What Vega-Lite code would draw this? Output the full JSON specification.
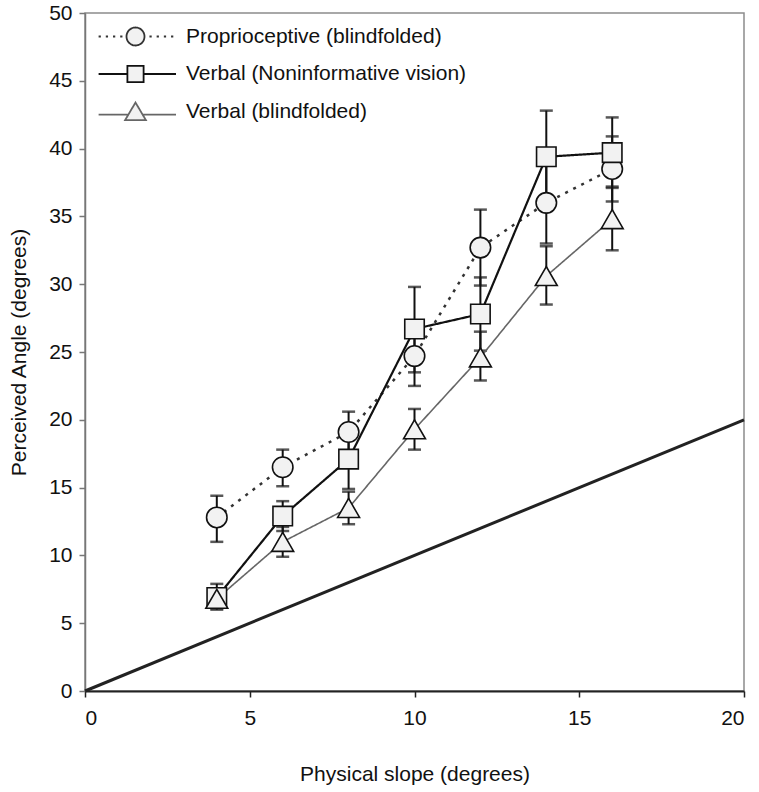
{
  "$schema": "https://vega.github.io/schema/vega-lite/v6.json",
  "width": 659,
  "height": 678,
  "autosize": {"type": "none"},
  "padding": {"left": 85, "top": 13, "right": 15, "bottom": 101},
  "background": "white",
  "config": {
    "font": "Liberation Sans",
    "view": {"stroke": "#8c8c8c", "strokeWidth": 1.5},
    "axis": {"grid": false, "labelFontSize": 21, "titleFontSize": 21, "titleFontWeight": "normal", "labelColor": "#111", "titleColor": "#111", "tickSize": 6}
  },
  "datasets": {
    "ref": [{"x": 0, "y": 0}, {"x": 20, "y": 20}],
    "pts": [
      {"series": "Proprioceptive (blindfolded)", "x": 4, "y": 12.8, "lo": 11.0, "hi": 14.4},
      {"series": "Proprioceptive (blindfolded)", "x": 6, "y": 16.5, "lo": 15.1, "hi": 17.8},
      {"series": "Proprioceptive (blindfolded)", "x": 8, "y": 19.1, "lo": 17.6, "hi": 20.6},
      {"series": "Proprioceptive (blindfolded)", "x": 10, "y": 24.7, "lo": 22.5, "hi": 26.9},
      {"series": "Proprioceptive (blindfolded)", "x": 12, "y": 32.7, "lo": 29.9, "hi": 35.5},
      {"series": "Proprioceptive (blindfolded)", "x": 14, "y": 36.0, "lo": 33.0, "hi": 39.0},
      {"series": "Proprioceptive (blindfolded)", "x": 16, "y": 38.5, "lo": 36.1, "hi": 40.9},
      {"series": "Verbal (Noninformative vision)", "x": 4, "y": 6.9, "lo": 6.0, "hi": 7.9},
      {"series": "Verbal (Noninformative vision)", "x": 6, "y": 12.9, "lo": 11.8, "hi": 14.0},
      {"series": "Verbal (Noninformative vision)", "x": 8, "y": 17.1, "lo": 14.9, "hi": 19.3},
      {"series": "Verbal (Noninformative vision)", "x": 10, "y": 26.7, "lo": 23.5, "hi": 29.8},
      {"series": "Verbal (Noninformative vision)", "x": 12, "y": 27.8, "lo": 25.1, "hi": 30.5},
      {"series": "Verbal (Noninformative vision)", "x": 14, "y": 39.4, "lo": 36.0, "hi": 42.8},
      {"series": "Verbal (Noninformative vision)", "x": 16, "y": 39.7, "lo": 37.2, "hi": 42.3},
      {"series": "Verbal (blindfolded)", "x": 4, "y": 6.8, "lo": 6.1, "hi": 7.5},
      {"series": "Verbal (blindfolded)", "x": 6, "y": 11.0, "lo": 9.9, "hi": 12.1},
      {"series": "Verbal (blindfolded)", "x": 8, "y": 13.5, "lo": 12.3, "hi": 14.7},
      {"series": "Verbal (blindfolded)", "x": 10, "y": 19.3, "lo": 17.8, "hi": 20.8},
      {"series": "Verbal (blindfolded)", "x": 12, "y": 24.6, "lo": 22.9, "hi": 26.5},
      {"series": "Verbal (blindfolded)", "x": 14, "y": 30.6, "lo": 28.5, "hi": 32.8},
      {"series": "Verbal (blindfolded)", "x": 16, "y": 34.8, "lo": 32.5, "hi": 37.1}
    ]
  },
  "layer": [
    {
      "data": {"name": "ref"},
      "mark": {"type": "line", "color": "#222", "strokeWidth": 3},
      "encoding": {
        "x": {"field": "x", "type": "quantitative", "title": "Physical slope (degrees)",
          "scale": {"domain": [0, 20], "nice": false},
          "axis": {"values": [0, 5, 10, 15, 20], "domainColor": "#222", "domainWidth": 2, "tickColor": "#222", "tickWidth": 1.5, "labelPadding": 10, "titlePadding": 35}},
        "y": {"field": "y", "type": "quantitative", "title": "Perceived Angle (degrees)",
          "scale": {"domain": [0, 50], "nice": false},
          "axis": {"values": [0, 5, 10, 15, 20, 25, 30, 35, 40, 45, 50], "domainColor": "#777", "domainWidth": 1.5, "tickColor": "#777", "tickWidth": 1.5, "labelPadding": 7, "titlePadding": 19}}
      }
    },
    {
      "data": {"name": "pts"},
      "mark": {"type": "errorbar", "color": "#111", "thickness": 2, "ticks": {"size": 13, "thickness": 2.5, "color": "#111"}},
      "encoding": {
        "x": {"field": "x", "type": "quantitative", "title": "Physical slope (degrees)"},
        "y": {"field": "lo", "type": "quantitative", "title": "Perceived Angle (degrees)"},
        "y2": {"field": "hi"}
      }
    },
    {
      "data": {"name": "pts"},
      "mark": {"type": "line"},
      "encoding": {
        "x": {"field": "x", "type": "quantitative", "title": "Physical slope (degrees)"},
        "y": {"field": "y", "type": "quantitative", "title": "Perceived Angle (degrees)"},
        "color": {"field": "series", "type": "nominal",
          "scale": {"domain": ["Proprioceptive (blindfolded)", "Verbal (Noninformative vision)", "Verbal (blindfolded)"], "range": ["#333", "#111", "#666"]},
          "legend": {"orient": "none", "legendX": 13, "legendY": 13, "title": null, "labelFontSize": 21, "labelColor": "#111", "labelLimit": 500, "symbolSize": 324, "symbolOffset": 27, "labelOffset": 40, "rowPadding": 11.5, "padding": 0, "symbolStrokeWidth": 1.8,
            "encode": {"symbols": {"update": {
              "shape": {"signal": "datum.value === 'Proprioceptive (blindfolded)' ? 'M-4.1,0L-3.85,0M-3.3,0L-3.05,0M-2.5,0L-2.25,0M-1.7,0L-1.45,0M1.55,0L1.8,0M2.35,0L2.6,0M3.15,0L3.4,0M3.95,0L4.2,0M-1,0A1,1,0,1,1,1,0A1,1,0,1,1,-1,0Z' : datum.value === 'Verbal (Noninformative vision)' ? 'M-4.1,0L-0.9,0M0.9,0L4.5,0M-0.9,-0.9L0.9,-0.9L0.9,0.9L-0.9,0.9Z' : 'M-4.1,0.35L-0.75,0.35M0.75,0.35L4.5,0.35M0,-1L1.15,0.95L-1.15,0.95Z'"},
              "fill": {"value": "#f2f2f2"},
              "stroke": {"signal": "datum.value === 'Verbal (blindfolded)' ? '#555' : '#111'"},
              "strokeDash": {"value": [1, 0]}
            }}}}},
        "strokeDash": {"condition": {"test": "datum.series === 'Proprioceptive (blindfolded)'", "value": [3, 6]}, "value": [1, 0]},
        "strokeWidth": {"condition": [{"test": "datum.series === 'Proprioceptive (blindfolded)'", "value": 2.5}, {"test": "datum.series === 'Verbal (Noninformative vision)'", "value": 2.2}], "value": 1.6}
      }
    },
    {
      "data": {"name": "pts"},
      "mark": {"type": "point", "filled": true, "fill": "#f2f2f2", "stroke": "#111", "strokeWidth": 1.6, "opacity": 1},
      "encoding": {
        "x": {"field": "x", "type": "quantitative", "title": "Physical slope (degrees)"},
        "y": {"field": "y", "type": "quantitative", "title": "Perceived Angle (degrees)"},
        "shape": {"condition": [{"test": "datum.series === 'Proprioceptive (blindfolded)'", "value": "circle"}, {"test": "datum.series === 'Verbal (Noninformative vision)'", "value": "square"}], "value": "triangle-up"},
        "size": {"condition": [{"test": "datum.series === 'Proprioceptive (blindfolded)'", "value": 420}, {"test": "datum.series === 'Verbal (Noninformative vision)'", "value": 380}], "value": 480}
      }
    }
  ]
}
